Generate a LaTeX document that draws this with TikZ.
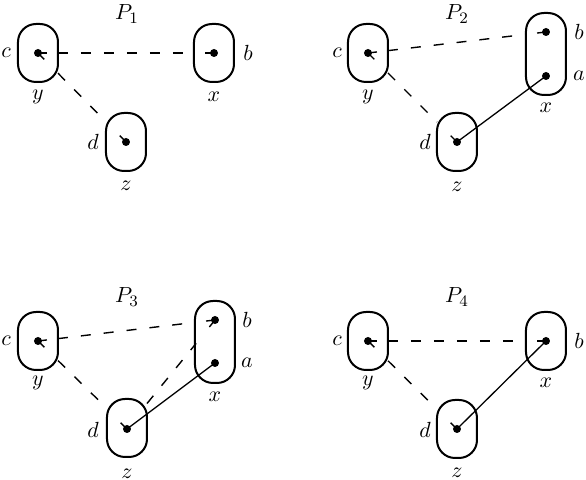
\documentclass[tikz,border=0pt]{standalone}
\usetikzlibrary{calc}
\tikzset{
  box/.style={draw, line width=1pt, rounded corners=9pt, minimum width=20pt,
    minimum height=29pt, inner sep=0pt, outer sep=0pt},
  tallbox/.style={box, minimum height=41pt},
  pt/.style={circle, fill, inner sep=0pt, minimum size=4pt},
  dline/.style={line width=0.7pt, dash pattern=on 5pt off 6.5pt},
  sline/.style={line width=0.65pt},
  stub/.style={line width=0.7pt},
  lab/.style={inner sep=0pt, font=\fontsize{11}{13}\selectfont}
}
\newcommand{\stubto}[2]{\draw[stub] (#1.center) -- ($(#1.center)!4.5pt!(#2.center)$);}
\begin{document}
\begin{tikzpicture}[x=0.5pt,y=-0.5pt]
\useasboundingbox[fill=white] (0,0) rectangle (586,480);
% ---------- P1 ----------
\node[box] (Y1) at (38,53) {};
\node[pt] (c1) at (38,53) {};
\node[box] (X1) at (214,53) {};
\node[pt] (b1) at (214,53) {};
\node[box] (Z1) at (126,142) {};
\node[pt] (d1) at (126,142) {};
\node[lab] (P1) at (127,14) {$P_1$};
\node[lab] (lc1) at (6,53) {$c$};
\node[lab] (lb1) at (248,53) {$b$};
\node[lab] (ly1) at (38,97) {$y$};
\node[lab] (lx1) at (214,97) {$x$};
\node[lab] (ld1) at (93,142) {$d$};
\node[lab] (lz1) at (126,186) {$z$};
\draw[dline] (Y1) -- (X1);
\draw[dline] (Y1) -- (Z1);
\stubto{c1}{b1}\stubto{b1}{c1}\stubto{c1}{d1}\stubto{d1}{c1}
% ---------- P2 ----------
\node[box] (Y2) at (368,53) {};
\node[pt] (c2) at (368,53) {};
\node[tallbox] (X2) at (546,54) {};
\node[pt] (b2) at (546,32) {};
\node[pt] (a2) at (546,76) {};
\node[box] (Z2) at (457,142) {};
\node[pt] (d2) at (457,142) {};
\node[lab] (P2) at (457,14) {$P_2$};
\node[lab] (lc2) at (337,53) {$c$};
\node[lab] (lb2) at (579,32) {$b$};
\node[lab] (la2) at (579,76) {$a$};
\node[lab] (ly2) at (368,97) {$y$};
\node[lab] (lx2) at (546,108) {$x$};
\node[lab] (ld2) at (425,142) {$d$};
\node[lab] (lz2) at (457,187) {$z$};
\coordinate (e2) at ($(b2.center)!10.5pt!(c2.center)$);
\draw[dline] (Y2) -- (e2);
\draw[dline] (Y2) -- (Z2);
\draw[sline] (a2.center) -- (d2.center);
\stubto{c2}{b2}\stubto{b2}{c2}\stubto{c2}{d2}\stubto{d2}{c2}
% ---------- P3 ----------
\node[box] (Y3) at (38,341) {};
\node[pt] (c3) at (38,341) {};
\node[tallbox] (X3) at (215,342) {};
\node[pt] (b3) at (215,320) {};
\node[pt] (a3) at (215,363) {};
\node[box] (Z3) at (127,428) {};
\node[pt] (d3) at (127,429) {};
\node[lab] (P3) at (127,297) {$P_3$};
\node[lab] (lc3) at (6,341) {$c$};
\node[lab] (lb3) at (247,320) {$b$};
\node[lab] (la3) at (247,363) {$a$};
\node[lab] (ly3) at (38,383) {$y$};
\node[lab] (lx3) at (215,397) {$x$};
\node[lab] (ld3) at (93,430) {$d$};
\node[lab] (lz3) at (127,474) {$z$};
\coordinate (e3) at ($(b3.center)!10.5pt!(c3.center)$);
\coordinate (f3) at ($(b3.center)!15pt!(d3.center)$);
\draw[dline] (Y3) -- (e3);
\draw[dline] (Y3) -- (Z3);
\draw[dline] (Z3) -- (f3);
\draw[sline] (a3.center) -- (d3.center);
\stubto{c3}{b3}\stubto{b3}{c3}\stubto{c3}{d3}\stubto{d3}{c3}\stubto{b3}{d3}
% ---------- P4 ----------
\node[box] (Y4) at (368,341) {};
\node[pt] (c4) at (368,341) {};
\node[box] (X4) at (546,341) {};
\node[pt] (b4) at (546,341) {};
\node[box] (Z4) at (457,429) {};
\node[pt] (d4) at (457,429) {};
\node[lab] (P4) at (457,297) {$P_4$};
\node[lab] (lc4) at (337,341) {$c$};
\node[lab] (lb4) at (579,341) {$b$};
\node[lab] (ly4) at (368,383) {$y$};
\node[lab] (lx4) at (546,383) {$x$};
\node[lab] (ld4) at (425,430) {$d$};
\node[lab] (lz4) at (457,473) {$z$};
\draw[dline] (Y4) -- (X4);
\draw[dline] (Y4) -- (Z4);
\draw[sline] (b4.center) -- (d4.center);
\stubto{c4}{b4}\stubto{b4}{c4}\stubto{c4}{d4}\stubto{d4}{c4}
\end{tikzpicture}
\end{document}
